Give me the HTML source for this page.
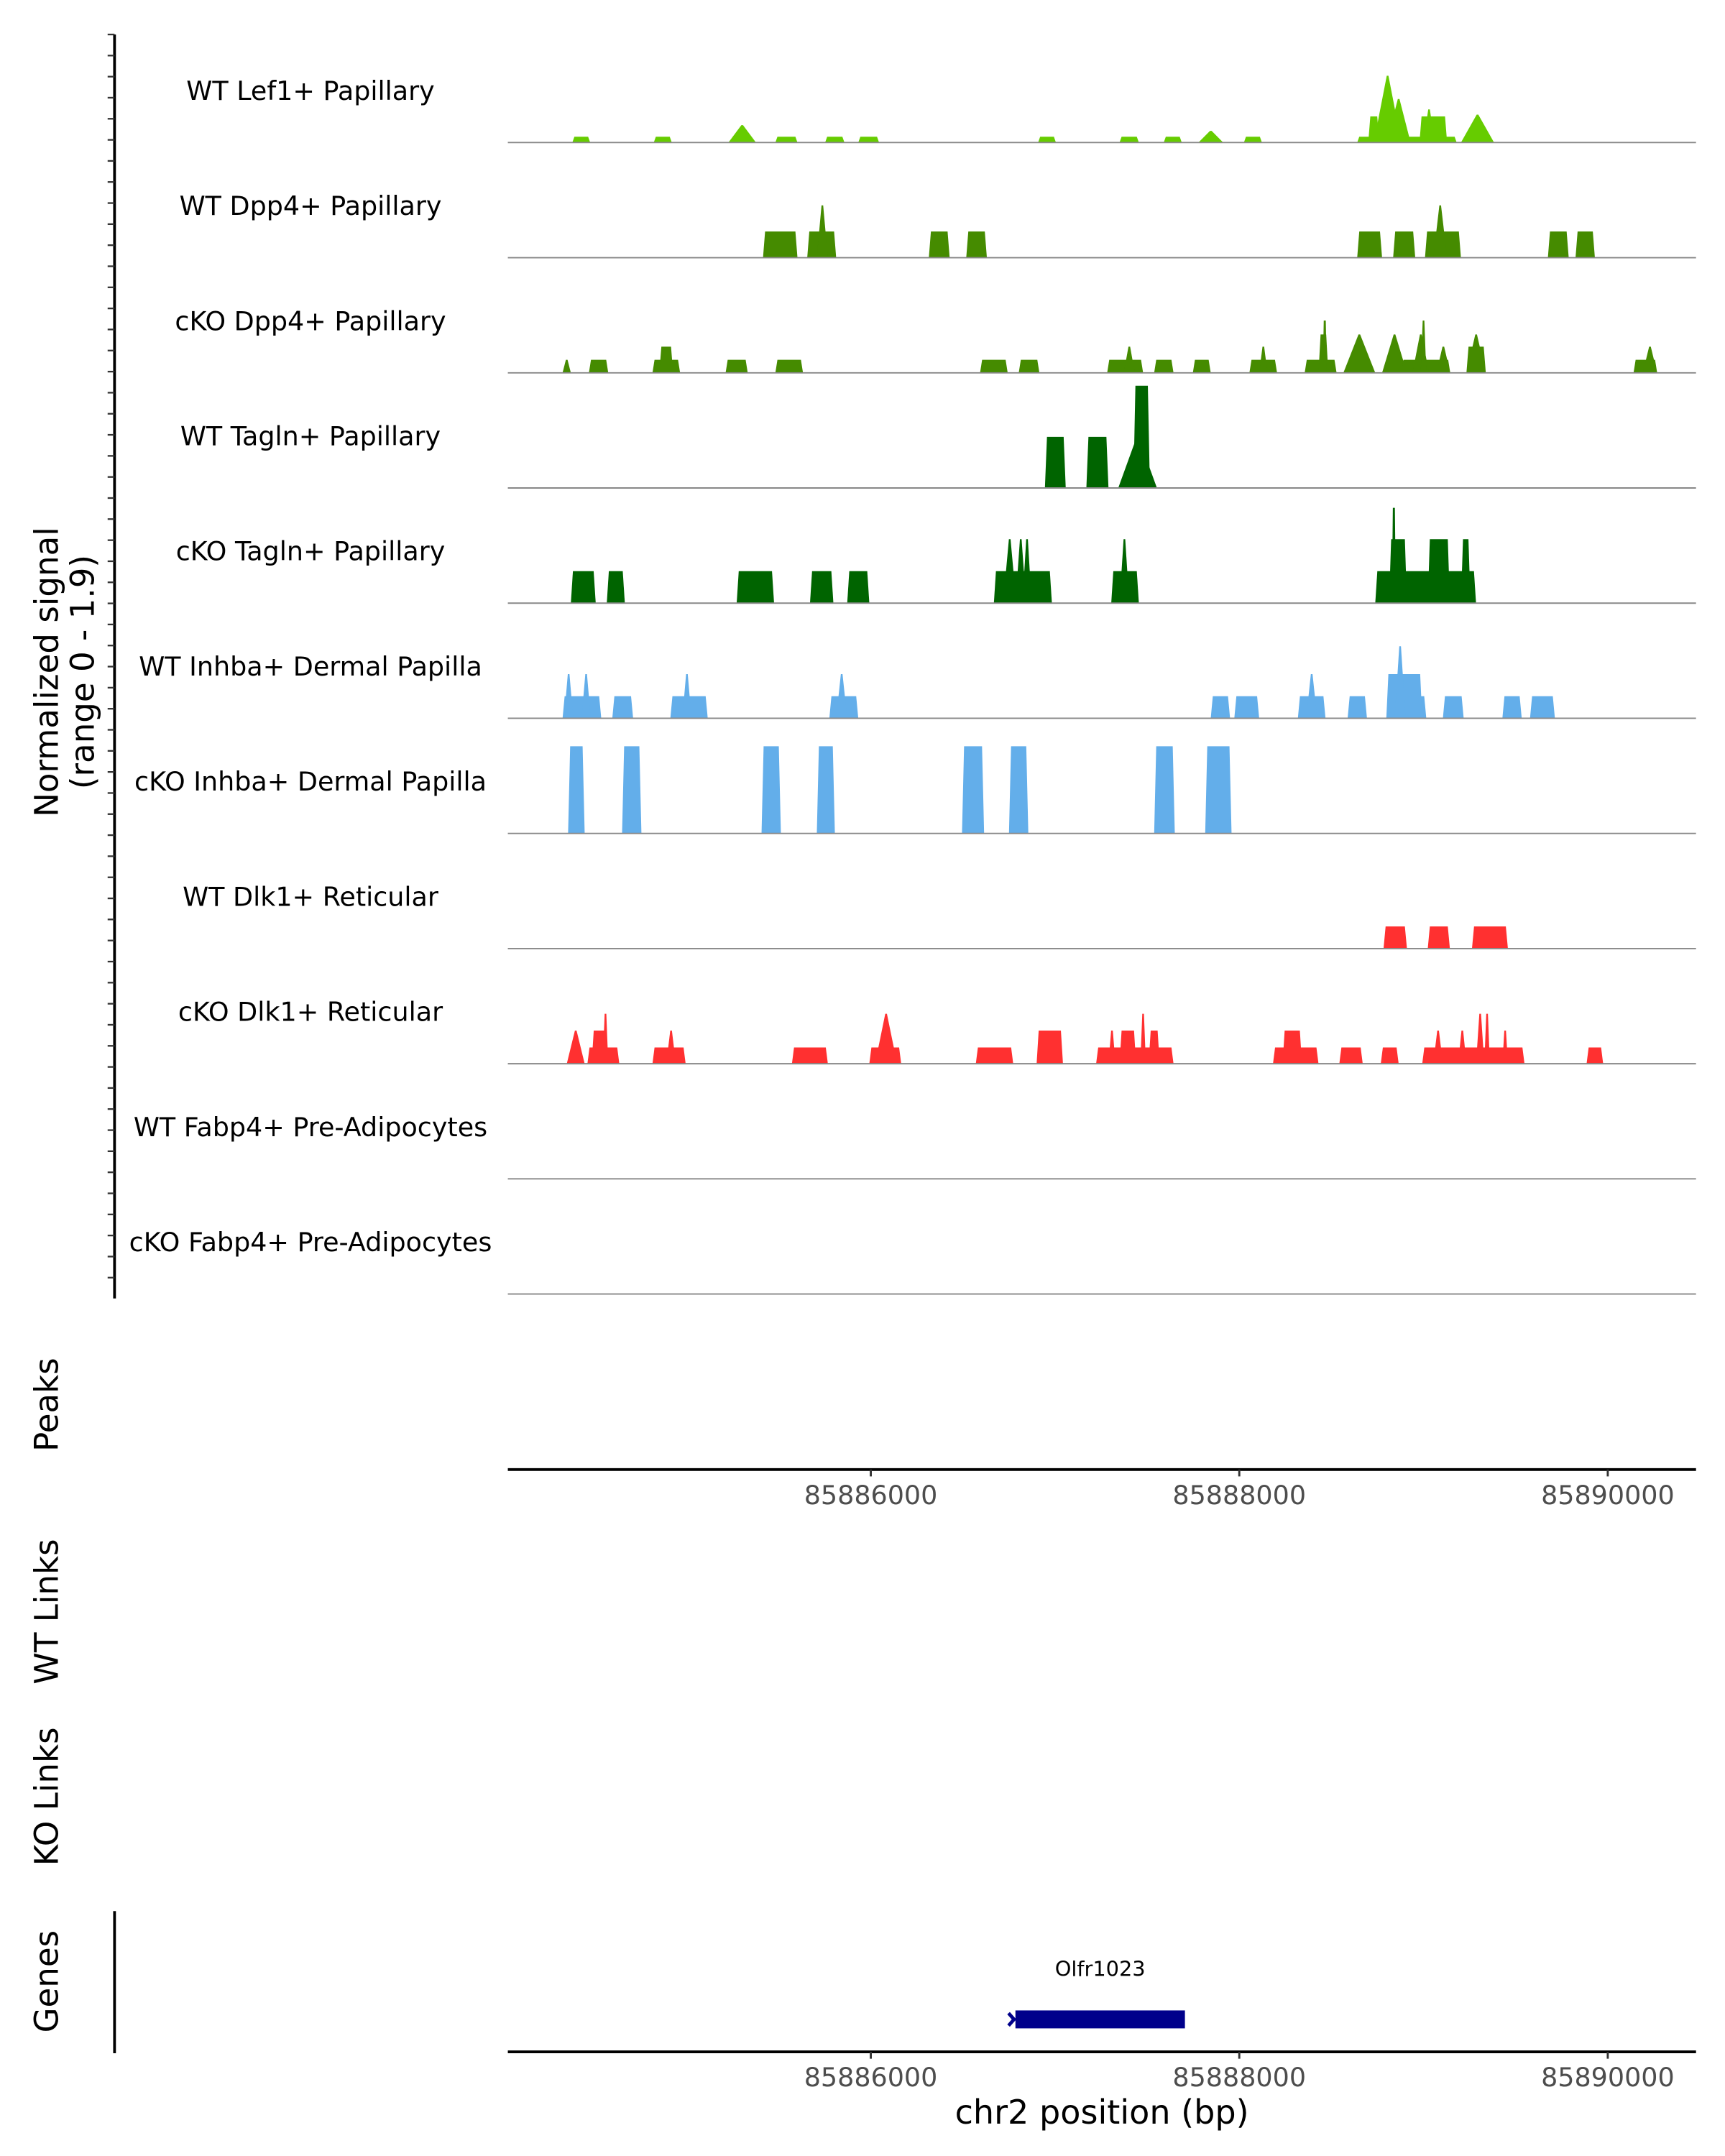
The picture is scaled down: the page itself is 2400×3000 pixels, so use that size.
<!DOCTYPE html>
<html><head><meta charset="utf-8"><style>
html,body{margin:0;padding:0;background:#fff;}
svg{display:block;font-family:"DejaVu Sans","Liberation Sans",sans-serif;}
</style></head><body>
<svg id="chart" width="2400" height="3000" viewBox="0 0 1250 1562.5" xmlns="http://www.w3.org/2000/svg"></svg>
<script>
const trackNames=["WT Lef1+ Papillary","WT Dpp4+ Papillary","cKO Dpp4+ Papillary","WT Tagln+ Papillary","cKO Tagln+ Papillary","WT Inhba+ Dermal Papilla","cKO Inhba+ Dermal Papilla","WT Dlk1+ Reticular","cKO Dlk1+ Reticular","WT Fabp4+ Pre-Adipocytes","cKO Fabp4+ Pre-Adipocytes"];
const trackColors=["#66cc00","#458b00","#458b00","#006400","#006400","#63aeea","#63aeea","#ff3030","#ff3030","#ff3030","#ff3030"];
// peaks: [start bp, end bp, normalized value, shape f=flat t=peak]
const lef1=[[85884380,85884477,.1,'f'],[85884822,85884920,.1,'f'],[85885227,85885377,.3,'t'],[85885482,85885602,.1,'f'],[85885752,85885857,.1,'f'],[85885932,85886045,.1,'f'],[85886908,85887005,.1,'f'],[85887350,85887455,.1,'f'],[85887590,85887688,.1,'f'],[85887778,85887913,.2,'t'],[85888025,85888123,.1,'f'],[85888640,85889180,.1,'f'],[85888700,85888760,.45,'f'],[85888730,85888880,1.15,'t'],[85888800,85888930,.75,'t'],[85888978,85889128,.45,'f'],[85889000,85889060,.57,'t'],[85889203,85889383,.48,'t']];
const dpp4wt=[[85885415,85885602,.45,'f'],[85885655,85885812,.45,'f'],[85885707,85885767,.9,'t'],[85886315,85886428,.45,'f'],[85886518,85886630,.45,'f'],[85888640,85888775,.45,'f'],[85888835,85888955,.45,'f'],[85889008,85889203,.45,'f'],[85889053,85889128,.9,'t'],[85889675,85889788,.45,'f'],[85889825,85889930,.45,'f']];
const dpp4ko=[[85884327,85884372,.225,'t'],[85884470,85884575,.225,'f'],[85884815,85884965,.225,'f'],[85884852,85884927,.45,'f'],[85885212,85885332,.225,'f'],[85885482,85885632,.225,'f'],[85886593,85886743,.225,'f'],[85886803,85886915,.225,'f'],[85887283,85887478,.225,'f'],[85887373,85887433,.45,'t'],[85887538,85887643,.225,'f'],[85887748,85887845,.225,'f'],[85888055,85888205,.225,'f'],[85888108,85888153,.45,'t'],[85888355,85888528,.225,'f'],[85888430,85888483,.66,'f'],[85888453,85888475,.9,'f'],[85888565,85888738,.66,'t'],[85888775,85888910,.66,'t'],[85888880,85889145,.225,'f'],[85888940,85889030,.66,'t'],[85888985,85889015,.9,'t'],[85889070,85889145,.45,'t'],[85889233,85889338,.66,'t'],[85889233,85889338,.45,'f'],[85890140,85890268,.225,'f'],[85890190,85890268,.45,'t']];
const taglnwt=[[85886945,85887058,.88,'f'],[85887170,85887290,.88,'f'],[85887343,85887553,.88,'t'],[85887425,85887515,1.76,'f']];
const taglnko=[[85884372,85884507,.55,'f'],[85884567,85884665,.55,'f'],[85885272,85885475,.55,'f'],[85885670,85885797,.55,'f'],[85885872,85885992,.55,'f'],[85886668,85886983,.55,'f'],[85886718,85886790,1.1,'t'],[85886785,85886843,1.1,'t'],[85886823,85886873,1.1,'t'],[85887305,85887455,.55,'f'],[85887350,85887403,1.1,'t'],[85888738,85889285,.55,'f'],[85888813,85888910,1.1,'f'],[85888828,85888850,1.64,'f'],[85889023,85889143,1.1,'f'],[85889203,85889255,1.1,'f']];
const inhbawt=[[85884327,85884537,.38,'f'],[85884335,85884385,.76,'t'],[85884430,85884480,.76,'t'],[85884597,85884710,.38,'f'],[85884912,85885115,.38,'f'],[85884977,85885027,.76,'t'],[85885775,85885932,.38,'f'],[85885812,85885872,.76,'t'],[85887845,85887950,.38,'f'],[85887973,85888108,.38,'f'],[85888318,85888468,.38,'f'],[85888363,85888423,.76,'t'],[85888588,85888693,.38,'f'],[85888798,85889015,.38,'f'],[85888798,85888993,.76,'f'],[85888843,85888903,1.24,'t'],[85889105,85889218,.38,'f'],[85889428,85889533,.38,'f'],[85889578,85889713,.38,'f']];
const inhbako=[[85884357,85884447,1.5,'f'],[85884650,85884755,1.5,'f'],[85885407,85885512,1.5,'f'],[85885707,85885805,1.5,'f'],[85886495,85886615,1.5,'f'],[85886750,85886855,1.5,'f'],[85887538,85887650,1.5,'f'],[85887815,85887958,1.5,'f']];
const dlk1wt=[[85888783,85888910,.38,'f'],[85889023,85889143,.38,'f'],[85889263,85889458,.38,'f']];
const dlk1ko=[[85884350,85884447,.57,'t'],[85884462,85884635,.28,'f'],[85884485,85884567,.57,'f'],[85884545,85884575,.86,'t'],[85884815,85884995,.28,'f'],[85884890,85884942,.57,'t'],[85885572,85885767,.28,'f'],[85885992,85886165,.28,'f'],[85886023,85886143,.86,'t'],[85886570,85886773,.28,'f'],[85886900,85887043,.57,'f'],[85887223,85887643,.28,'f'],[85887290,85887328,.57,'t'],[85887350,85887440,.57,'f'],[85887463,85887493,.86,'t'],[85887508,85887568,.57,'f'],[85888183,85888430,.28,'f'],[85888235,85888340,.57,'f'],[85888543,85888670,.28,'f'],[85888768,85888865,.28,'f'],[85888993,85889548,.28,'f'],[85889053,85889105,.57,'t'],[85889188,85889233,.57,'t'],[85889285,85889330,.86,'t'],[85889330,85889360,.86,'t'],[85889428,85889458,.57,'t'],[85889885,85889975,.28,'f']];
const fabp4wt=[];
const fabp4ko=[];
const trackPeaks=[lef1,dpp4wt,dpp4ko,taglnwt,taglnko,inhbawt,inhbako,dlk1wt,dlk1ko,fabp4wt,fabp4ko];
const xTicks=[85886000,85888000,85890000];
const geneName="Olfr1023";
const geneStart=85886785;
const geneEnd=85887705;
const yMax=1.9;

const NS="http://www.w3.org/2000/svg";
const svg=document.getElementById('chart');
const X0=368,X1=1229,BP0=85884030,BP1=85890479;
function xs(bp){return X0+(bp-BP0)/(BP1-BP0)*(X1-X0);}
const trackH=83.45, firstBase=103.3, ampl=80;
function ys(v,base){return base-v/yMax*ampl;}
function mk(tag,attrs,parent){const e=document.createElementNS(NS,tag);for(const k in attrs)e.setAttribute(k,attrs[k]);(parent||svg).appendChild(e);return e;}
function txt(s,attrs){const t=mk('text',attrs);t.textContent=s;return t;}

let ax=mk('line',{x1:83,y1:25,x2:83,y2:941,stroke:'#000','stroke-width':2});


for(let y=25;y<=941;y+=15.27){
  const t=mk('line',{x1:78,y1:y,x2:83,y2:y,stroke:'#333','stroke-width':1.2});
  
  
}
let yt=txt('Normalized signal',{x:0,y:0,'font-size':23.5,'text-anchor':'middle',transform:'translate(42,487) rotate(-90)'});


let yt2=txt('(range 0 - 1.9)',{x:0,y:0,'font-size':23.5,'text-anchor':'middle',transform:'translate(68,487) rotate(-90)'});



trackNames.forEach((name,i)=>{
  const base=firstBase+i*trackH;
  const g=mk('g',{});
  
  
  trackPeaks[i].forEach(p=>{
    const a=xs(p[0]),b=xs(p[1]),top=ys(p[2],base);
    let pts;
    if(p[3]==='t'){const m=(a+b)/2;pts=`${a},${base} ${m-0.6},${top} ${m+0.6},${top} ${b},${base}`;}
    else{const s=Math.min(1.5,(b-a)/4);pts=`${a},${base} ${a+s},${top} ${b-s},${top} ${b},${base}`;}
    const poly=mk('polygon',{points:pts,fill:trackColors[i]},g);
    
    
  });
  const bl=mk('line',{x1:X0,y1:base,x2:X1,y2:base,stroke:'#888','stroke-width':1},g);
  
  
  const lb=txt(name,{x:225,y:base-31,'font-size':19,'text-anchor':'middle'});
  
  
});

function xAxis(y,nameSuffix){
  const l=mk('line',{x1:X0,y1:y,x2:X1,y2:y,stroke:'#000','stroke-width':2});
  
  
  xTicks.forEach(t=>{
    const tk=mk('line',{x1:xs(t),y1:y,x2:xs(t),y2:y+5,stroke:'#333','stroke-width':1.5});
    
    
    const lab=txt(String(t),{x:xs(t),y:y+25,'font-size':19,fill:'#4d4d4d','text-anchor':'middle'});
    
    
  });
}
xAxis(1065,'peaks');
xAxis(1487,'genes');

function sideLabel(s,y,name){
  const t=txt(s,{x:0,y:0,'font-size':23.5,'text-anchor':'middle',transform:`translate(42,${y}) rotate(-90)`});
  
  
}
sideLabel('Peaks',1018,'peaks-track-label');
sideLabel('WT Links',1168,'wt-links-track-label');
sideLabel('KO Links',1302,'ko-links-track-label');
sideLabel('Genes',1436,'genes-track-label');
let ga=mk('line',{x1:83,y1:1385,x2:83,y2:1488,stroke:'#000','stroke-width':2});



let gb=mk('rect',{x:xs(geneStart),y:1457,width:xs(geneEnd)-xs(geneStart),height:13,fill:'#00008b'});


let gar=mk('path',{d:`M${xs(geneStart)-5},1459 L${xs(geneStart)-1},1463.5 L${xs(geneStart)-5},1468`,stroke:'#00008b','stroke-width':2.5,fill:'none'});


let gl=txt(geneName,{x:(xs(geneStart)+xs(geneEnd))/2,y:1432,'font-size':15,'text-anchor':'middle'});



let xt=txt('chr2 position (bp)',{x:(X0+X1)/2,y:1539,'font-size':24,'text-anchor':'middle'});


</script>
</body></html>
